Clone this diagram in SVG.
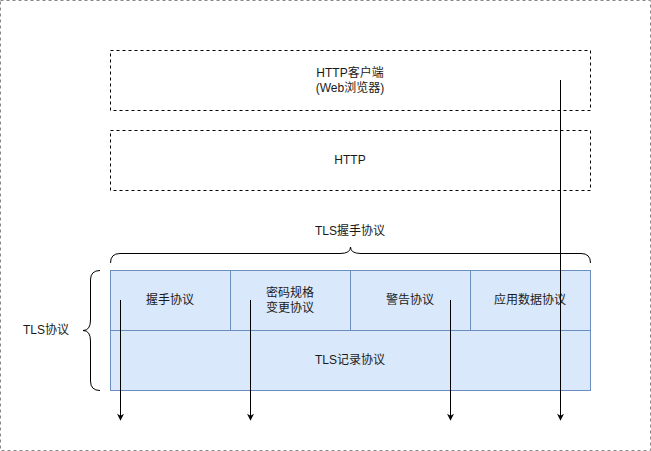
<svg xmlns="http://www.w3.org/2000/svg" width="651" height="451" viewBox="0 0 651 451">
  <style>
    text { font-family: "Liberation Sans", "Noto Sans CJK SC", sans-serif; font-size: 12px; fill: #1a1a1a; text-anchor: middle; dominant-baseline: central; }
    .frame { fill: #ffffff; stroke: #888888; stroke-dasharray: 3 3; }
    .layer { fill: none; stroke: #000000; stroke-dasharray: 3 3; }
    .proto { fill: #dae8fc; stroke: #6c8ebf; }
    .brace { fill: none; stroke: #000000; }
    .flow { fill: none; stroke: #000000; marker-end: url(#arrow); }
  </style>
  <defs>
    <marker id="arrow" viewBox="0 0 10 10" refX="9" refY="5" markerWidth="7" markerHeight="7" markerUnits="userSpaceOnUse" orient="auto">
      <path d="M0,0 L10,5 L0,10 L3,5 Z" fill="#000000"/>
    </marker>
  </defs>

  <rect class="frame" x="0.5" y="0.5" width="650" height="450"/>

  <g id="http-client">
    <rect class="layer" x="110.5" y="50.5" width="480" height="60"/>
    <text x="350" y="73">HTTP客户端</text>
    <text x="350" y="88">(Web浏览器)</text>
  </g>

  <g id="http">
    <rect class="layer" x="110.5" y="130.5" width="480" height="60"/>
    <text x="350" y="160">HTTP</text>
  </g>

  <g id="handshake-group">
    <path class="brace" d="M110.5,263 Q110.5,253.5 120,253.5 L340,253.5 Q350.5,253.5 350.5,247 Q350.5,253.5 361,253.5 L581,253.5 Q590.5,253.5 590.5,263"/>
    <text x="350" y="231">TLS握手协议</text>
  </g>

  <g id="tls-group">
    <path class="brace" d="M100,270.5 Q90.5,270.5 90.5,280 L90.5,320 Q90.5,330.5 83,330.5 Q90.5,330.5 90.5,341 L90.5,381 Q90.5,390.5 100,390.5"/>
    <text x="46" y="330">TLS协议</text>
  </g>

  <g id="handshake">
    <rect class="proto" x="110.5" y="270.5" width="120" height="60"/>
    <text x="170" y="300">握手协议</text>
  </g>
  <g id="change-cipher-spec">
    <rect class="proto" x="230.5" y="270.5" width="120" height="60"/>
    <text x="290" y="293">密码规格</text>
    <text x="290" y="308">变更协议</text>
  </g>
  <g id="alert">
    <rect class="proto" x="350.5" y="270.5" width="120" height="60"/>
    <text x="410" y="300">警告协议</text>
  </g>
  <g id="application-data">
    <rect class="proto" x="470.5" y="270.5" width="120" height="60"/>
    <text x="530" y="300">应用数据协议</text>
  </g>
  <g id="record">
    <rect class="proto" x="110.5" y="330.5" width="480" height="60"/>
    <text x="350" y="360">TLS记录协议</text>
  </g>

  <g id="connectors">
    <path class="flow" d="M120.5,300 L120.5,420"/>
    <path class="flow" d="M250.5,300 L250.5,420"/>
    <path class="flow" d="M450.5,300 L450.5,420"/>
    <path class="flow" d="M560.5,80 L560.5,420"/>
  </g>
</svg>
